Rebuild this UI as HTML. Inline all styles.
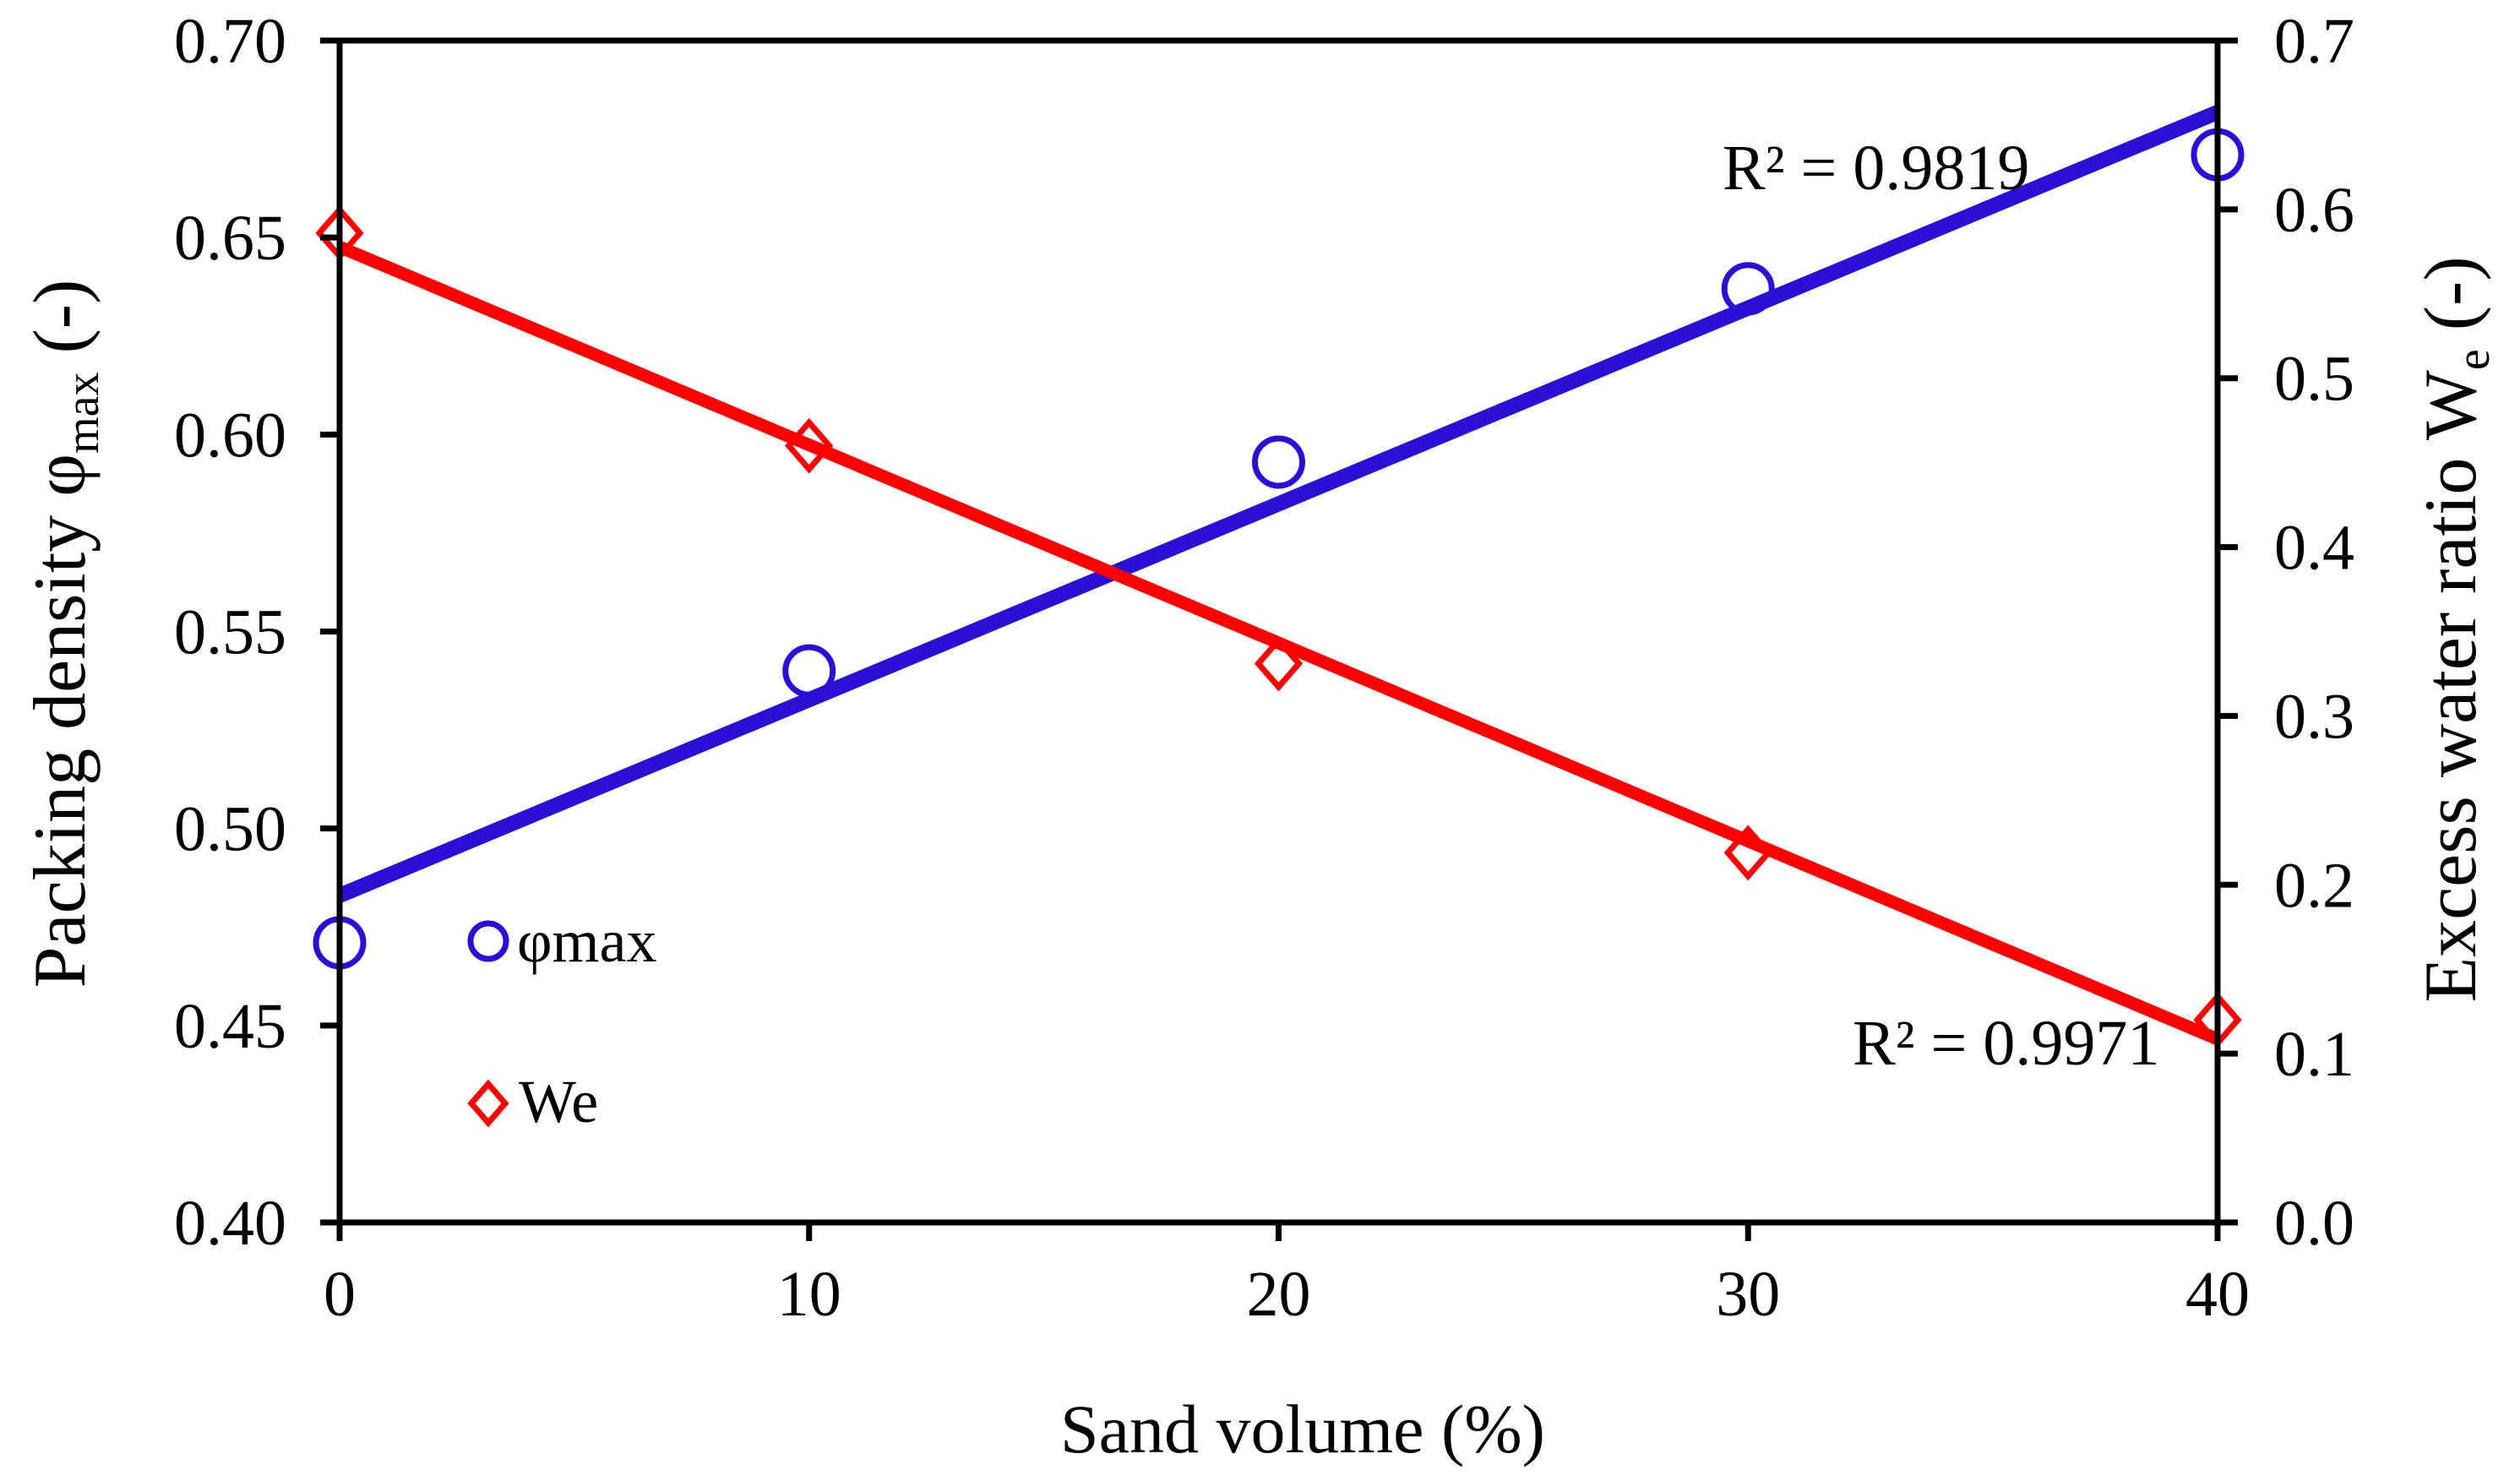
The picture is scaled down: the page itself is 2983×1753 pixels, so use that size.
<!DOCTYPE html>
<html><head><meta charset="utf-8"><style>
html,body{margin:0;padding:0;background:#fff;}
svg{display:block;font-family:"Liberation Serif","Times New Roman",serif;}
</style></head><body>
<svg id="chart" width="2983" height="1753" viewBox="0 0 2983 1753" xmlns="http://www.w3.org/2000/svg">
<rect x="0" y="0" width="2983" height="1753" fill="#fff"/>
<g id="marks"></g>
<g id="axes"></g>
<text x="1542" y="1719" font-size="82" text-anchor="middle">Sand volume (%)</text>
<text transform="translate(100,750) rotate(-90)" font-size="88" text-anchor="middle">Packing density φ<tspan font-size="56" dy="16">max</tspan><tspan dy="-16"> (-)</tspan></text>
<text transform="translate(2930,745) rotate(-90)" font-size="88" text-anchor="middle">Excess water ratio W<tspan font-size="56" dy="16">e</tspan><tspan dy="-16"> (-)</tspan></text>
<text x="2039" y="224" font-size="76">R² = 0.9819</text>
<text x="2193" y="1260" font-size="76">R² = 0.9971</text>
<g>
<circle cx="578" cy="1114" r="21" fill="none" stroke="#2a0fd8" stroke-width="7"/>
<text x="612" y="1138" font-size="72">φmax</text>
<path d="M578 1283 L598 1306 L578 1329 L558 1306 Z" fill="none" stroke="#ff0000" stroke-width="7"/>
<text x="614" y="1328" font-size="72">We</text>
</g>
</svg>
<script>
const sandVolume = [0, 10, 20, 30, 40];
const phiMax = [0.471, 0.540, 0.593, 0.637, 0.671];
const excessWater = [0.586, 0.460, 0.331, 0.219, 0.120];
const xTicks = [0, 10, 20, 30, 40];
const leftTicks = ["0.40","0.45","0.50","0.55","0.60","0.65","0.70"];
const rightTicks = ["0.0","0.1","0.2","0.3","0.4","0.5","0.6","0.7"];

const NS = "http://www.w3.org/2000/svg";
const L = 402, R = 2625, T = 48, B = 1447;
const xs = v => L + (v - 0) / 40 * (R - L);
const yl = v => B - (v - 0.40) / 0.30 * (B - T);
const yr = v => B - v / 0.7 * (B - T);
const marks = document.getElementById('marks');
const axes = document.getElementById('axes');
function mk(tag, attrs, parent) {
  const e = document.createElementNS(NS, tag);
  for (const k in attrs) e.setAttribute(k, attrs[k]);
  parent.appendChild(e);
  return e;
}
function fit(xsArr, ysArr) {
  const n = xsArr.length;
  const mx = xsArr.reduce((a, b) => a + b, 0) / n;
  const my = ysArr.reduce((a, b) => a + b, 0) / n;
  let sxy = 0, sxx = 0;
  for (let i = 0; i < n; i++) { sxy += (xsArr[i] - mx) * (ysArr[i] - my); sxx += (xsArr[i] - mx) ** 2; }
  const m = sxy / sxx;
  return [m, my - m * mx];
}
const [m1, b1] = fit(sandVolume, phiMax);
const l1 = mk('line', {x1: xs(0), y1: yl(b1), x2: xs(40), y2: yl(b1 + 40 * m1), stroke: '#2a0fd8', 'stroke-width': 18}, marks);


const [m2, b2] = fit(sandVolume, excessWater);
const l2 = mk('line', {x1: xs(0), y1: yr(b2), x2: xs(40), y2: yr(b2 + 40 * m2), stroke: '#ff0000', 'stroke-width': 15}, marks);


const frame = [[L, T, R, T], [L, B, R, B], [L, T, L, B], [R, T, R, B]];
frame.forEach((f, i) => {
  const e = mk('line', {x1: f[0], y1: f[1], x2: f[2], y2: f[3], stroke: '#000', 'stroke-width': 7, 'stroke-linecap': 'square'}, axes);
  
  
});
xTicks.forEach(v => {
  const x = xs(v);
  const t = mk('line', {x1: x, y1: B, x2: x, y2: B + 22, stroke: '#000', 'stroke-width': 7}, axes);
  
  
  const lb = mk('text', {x: x, y: 1557, 'font-size': 76, 'text-anchor': 'middle'}, axes);
  
  
  lb.textContent = String(v);
});
leftTicks.forEach(s => {
  const y = yl(parseFloat(s));
  const t = mk('line', {x1: L - 23, y1: y, x2: L, y2: y, stroke: '#000', 'stroke-width': 7}, axes);
  
  
  const lb = mk('text', {x: 339, y: y + 26, 'font-size': 76, 'text-anchor': 'end'}, axes);
  
  
  lb.textContent = s;
});
rightTicks.forEach(s => {
  const y = yr(parseFloat(s));
  const t = mk('line', {x1: R, y1: y, x2: R + 24, y2: y, stroke: '#000', 'stroke-width': 7}, axes);
  
  
  const lb = mk('text', {x: 2692, y: y + 26, 'font-size': 76, 'text-anchor': 'start'}, axes);
  
  
  lb.textContent = s;
});
excessWater.forEach((v, i) => {
  const x = xs(sandVolume[i]), y = yr(v), h = 24;
  const p = mk('path', {d: `M${x} ${y - h * 1.15} L${x + h} ${y} L${x} ${y + h * 1.15} L${x - h} ${y} Z`, fill: 'none', stroke: '#ff0000', 'stroke-width': 7}, marks);
  
  
});
phiMax.forEach((v, i) => {
  const c = mk('circle', {cx: xs(sandVolume[i]), cy: yl(v), r: 28, fill: 'none', stroke: '#2a0fd8', 'stroke-width': 7}, marks);
  
  
});
</script>
</body></html>
